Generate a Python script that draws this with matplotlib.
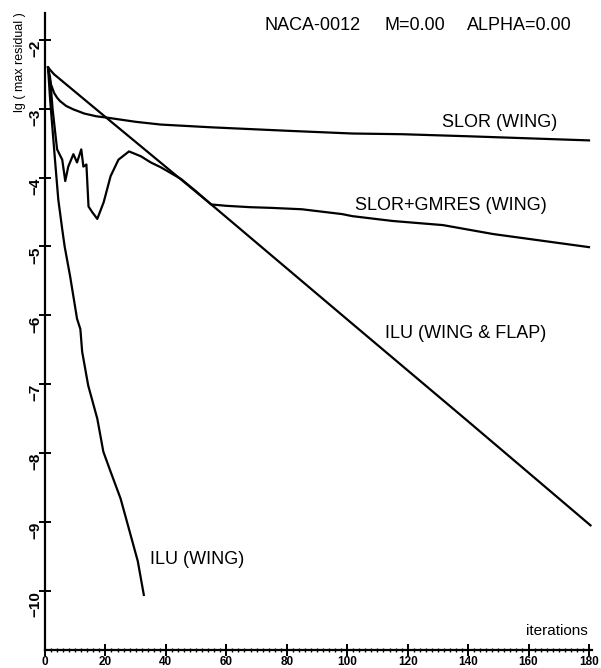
import numpy as np
import matplotlib
matplotlib.use("Agg")
import matplotlib.pyplot as plt
from matplotlib.ticker import MultipleLocator

plt.rcParams['font.family'] = ['Liberation Sans', 'DejaVu Sans']

# ---------------------------
# Convergence histories
# ---------------------------
slor_x = [1, 1.5, 2, 3, 4, 5, 7, 9.4, 13, 17, 20.6, 30, 38.3, 55, 80, 101.7,
          118, 140, 160, 180]
slor_y = [-2.40, -2.55, -2.65, -2.77, -2.84, -2.89, -2.96, -3.01, -3.07, -3.11,
          -3.13, -3.19, -3.23, -3.27, -3.32, -3.36, -3.37, -3.40, -3.43, -3.46]

gmres_x = [1, 1.7, 2.5, 4, 5.7, 6.7, 7.7, 9.4, 10.6, 12, 12.7, 13.7, 14.4, 15.6,
           17.3, 19.4, 21.7, 24.3, 27.8, 31.7, 35, 38.3, 45, 50, 55, 60, 68, 75,
           85, 98.3, 101.7, 115, 131.7, 148.3, 165, 180]
gmres_y = [-2.40, -2.55, -3.00, -3.59, -3.74, -4.05, -3.84, -3.66, -3.78, -3.59,
           -3.84, -3.81, -4.42, -4.50, -4.60, -4.36, -3.98, -3.74, -3.62, -3.69,
           -3.78, -3.85, -4.02, -4.20, -4.39, -4.41, -4.43, -4.44, -4.46, -4.53,
           -4.56, -4.63, -4.69, -4.82, -4.92, -5.01]

ilu_x = [1, 1.7, 3.3, 4.4, 5.7, 6.5, 8.3, 10.6, 11.7, 12.3, 14.3, 17.3, 19.3,
         21.7, 25, 27.7, 30.7, 32.7]
ilu_y = [-2.40, -2.87, -3.74, -4.32, -4.75, -5.00, -5.43, -6.05, -6.20, -6.53,
         -7.02, -7.50, -7.98, -8.27, -8.66, -9.09, -9.57, -10.06]

flap_x = [1, 3, 20, 55, 100, 140, 180.5]
flap_y = [-2.40, -2.50, -3.12, -4.39, -6.06, -7.54, -9.05]

x_ticks = [0, 20, 40, 60, 80, 100, 120, 140, 160, 180]
y_ticks = [-2, -3, -4, -5, -6, -7, -8, -9, -10]

# ---------------------------
# Figure
# ---------------------------
fig = plt.figure(figsize=(6.01, 6.68), dpi=100)
ax = fig.add_axes([45 / 601, 18 / 668, 547 / 601, 637 / 668])

lw = 1.6
ax.plot(slor_x, slor_y, color='black', lw=lw)
ax.plot(gmres_x, gmres_y, color='black', lw=lw)
ax.plot(ilu_x, ilu_y, color='black', lw=lw)
ax.plot(flap_x, flap_y, color='black', lw=lw)

ax.set_xlim(0, 181)
ax.set_ylim(-10.86, -1.61)

for s in ['top', 'right']:
    ax.spines[s].set_visible(False)
for s in ['left', 'bottom']:
    ax.spines[s].set_linewidth(1.6)

ax.set_xticks(x_ticks)
ax.set_yticks(y_ticks)
ax.xaxis.set_minor_locator(MultipleLocator(2))
ax.tick_params(axis='both', which='major', direction='inout', length=8, width=1.4)
ax.tick_params(axis='x', which='minor', direction='inout', length=3, width=1)
ax.tick_params(axis='x', which='major', pad=0, labelsize=8.5)
ax.tick_params(axis='y', which='major', pad=-2, labelsize=11)
for lab in ax.get_xticklabels():
    lab.set_fontweight('bold')
for lab in ax.get_yticklabels():
    lab.set_fontweight('bold')
    lab.set_rotation(90)
    lab.set_verticalalignment('top')

# ---------------------------
# Curve labels and titles
# ---------------------------
fs = 13
ax.text(131.5, -3.20, "SLOR (WING)", fontsize=fs, va='center', ha='left')
ax.text(102.6, -4.41, "SLOR+GMRES (WING)", fontsize=fs, va='center', ha='left')
ax.text(112.6, -6.27, "ILU (WING & FLAP)", fontsize=fs, va='center', ha='left')
ax.text(34.8, -9.55, "ILU (WING)", fontsize=fs, va='center', ha='left')
ax.text(159, -10.58, "iterations", fontsize=11, va='center', ha='left')

fig.text(265 / 601, 1 - 25 / 668, "NACA-0012", fontsize=fs, va='center', ha='left')
fig.text(385 / 601, 1 - 25 / 668, "M=0.00", fontsize=fs, va='center', ha='left')
fig.text(467 / 601, 1 - 25 / 668, "ALPHA=0.00", fontsize=fs, va='center', ha='left')
fig.text(20 / 601, 1 - 12 / 668, "lg ( max residual )", fontsize=9, rotation=90,
         va='top', ha='center')

fig.savefig("out.png", dpi=100)
